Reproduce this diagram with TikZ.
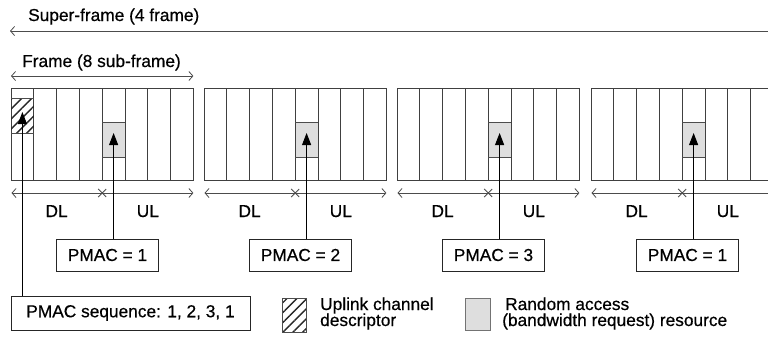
\documentclass[tikz,border=0pt]{standalone}
\usepackage{fontspec}
\setmainfont{Liberation Sans}[FakeBold=0.5]
\usetikzlibrary{arrows.meta,patterns.meta}
\tikzset{sbarb/.tip={Straight Barb[length=4pt,width=9pt,line width=0.8pt]}}
\begin{document}
\begin{tikzpicture}[x=1pt,y=-1pt,
  every node/.style={font=\fontsize{17.3pt}{17pt}\selectfont, inner sep=0pt, text=black},
  framel/.style={draw=black!75, line width=0.9pt},
  ra/.style={fill=black!13},
  rab/.style={draw=black!70, line width=0.9pt},
  hatch/.style={pattern={Lines[angle=45,distance=7pt,line width=1.4pt]}, pattern color=black!85},
  conn/.style={draw=black, line width=0.9pt, -{Triangle[length=12pt,width=9pt]}},
  dimar/.style={draw=black!70, line width=0.8pt},
  pbox/.style={draw=black!85, line width=0.9pt, minimum width=102pt, minimum height=32pt},
  lbl/.style={anchor=base}
]
\useasboundingbox (0,0) rectangle (768,338);
\clip (0,0) rectangle (768,338);

% Super-frame and frame dimension arrows
\node[anchor=base west] (sf) at (28,21) {Super-frame (4 frame)};
\coordinate (sfl) at (10,31);
\coordinate (sfr) at (790,31);
\draw[dimar, sbarb-] (sfl) -- (sfr);
\node[anchor=base west] (fr) at (22,67) {Frame (8 sub-frame)};
\coordinate (frl) at (11,76);
\coordinate (frr) at (193.4,76);
\draw[dimar, sbarb-sbarb] (frl) -- (frr);

% frames
\foreach \L/\k [count=\i] in {11/1,204/2,397/3,591/1}{
  \fill[ra] (\L+91.2,122) rectangle (\L+114,157);
  \draw[framel] (\L,88) rectangle (\L+182.4,180);
  \foreach \j in {1,...,7} \draw[framel] (\L+\j*22.8,88) -- (\L+\j*22.8,180);
  \draw[rab] (\L+91.2,122) -- (\L+114,122) (\L+91.2,157) -- (\L+114,157);
  % DL / UL
  \draw[dimar, sbarb-sbarb] (\L+0.5,193) -- (\L+182.4,193);
  \draw[dimar] (\L+87.2,189) -- (\L+95.2,197) (\L+87.2,197) -- (\L+95.2,189);
  \node[lbl] (dl\i) at (\L+45.6,217) {DL};
  \node[lbl] (ul\i) at (\L+136.8,217) {UL};
  % PMAC box and arrow
  \node[pbox] (p\i) at (\L+96.5,255) {PMAC = \k};
  \coordinate (t\i) at (\L+102.6,133);
  \draw[conn] (p\i.north -| t\i) -- (t\i);
}

% uplink channel descriptor in frame 1
\fill[hatch] (11,98) rectangle (33.8,133);
\draw[rab] (11,98) -- (33.8,98) (11,133) -- (33.8,133);
\node[pbox, minimum width=239pt, minimum height=34pt] (ps) at (130.5,313) {PMAC sequence: 1, 2, 3, 1};
\coordinate (t0) at (22.4,112);
\draw[conn] (ps.north -| t0) -- (t0);

% legend
\node[draw=black!70, line width=0.8pt, hatch, minimum width=24pt, minimum height=34pt] (lg1) at (294,315) {};
\node[anchor=base west] (lt1a) at (320,310) {Uplink channel};
\node[anchor=base west] (lt1b) at (320,326) {descriptor};
\node[draw=black!55, line width=0.8pt, ra, minimum width=25pt, minimum height=32pt] (lg2) at (477.5,314) {};
\node[anchor=base west] (lt2a) at (505,310) {Random access};
\node[anchor=base west] (lt2b) at (502,326) {(bandwidth request) resource};
\end{tikzpicture}
\end{document}
